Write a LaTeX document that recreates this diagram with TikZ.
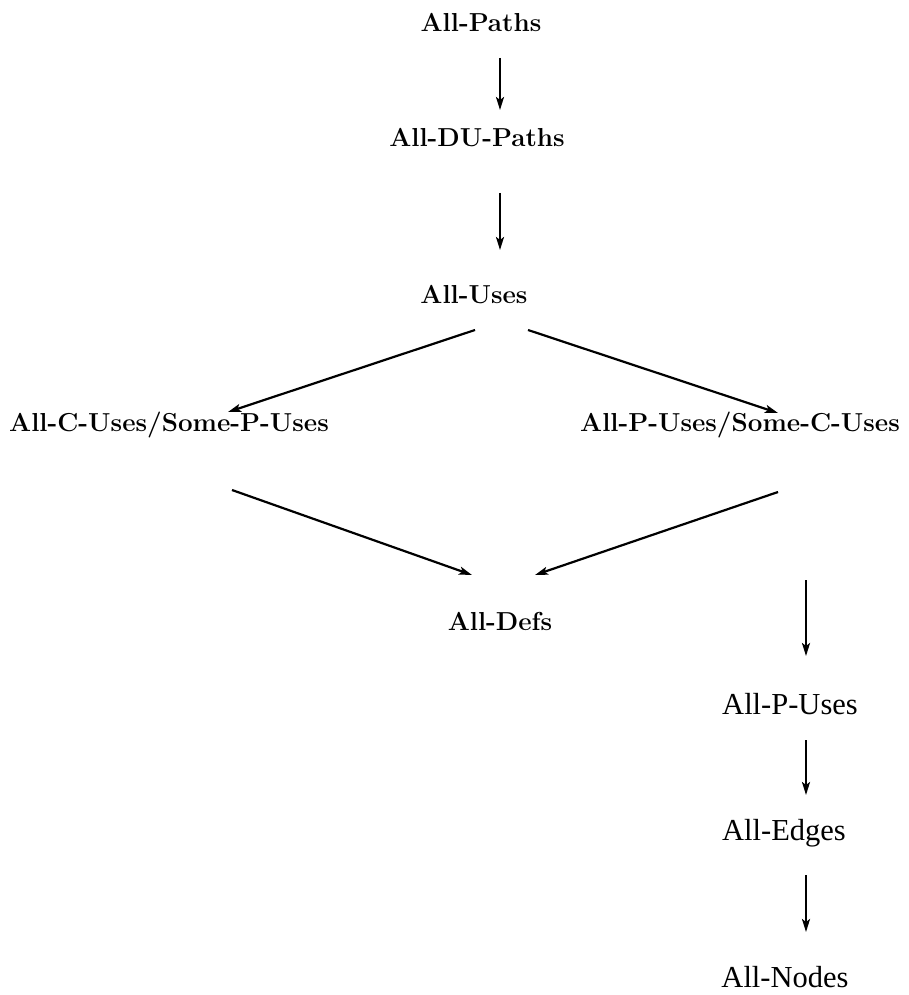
\documentclass[tikz,border=0pt]{standalone}
\usepackage{fontspec}
\newfontfamily\tmsfont{Liberation Serif}
\usetikzlibrary{arrows.meta}
\begin{document}
\begin{tikzpicture}[x=1pt,y=-1pt,
  lbl/.style={anchor=base,inner sep=0pt,font=\fontsize{26}{31}\selectfont\bfseries},
  lbltm/.style={anchor=base,inner sep=0pt,font=\fontsize{30.5}{36}\selectfont\tmsfont},
  arr/.style={line width=2.2pt,-{Stealth[length=13pt,width=8pt,inset=3pt]}}]
\useasboundingbox (0,0) rectangle (908,995);
\node[lbl] (paths) at (481,32) {All-Paths};
\node[lbl] (du) at (477,147) {All-DU-Paths};
\node[lbl] (uses) at (474,303) {All-Uses};
\node[lbl] (cu) at (169,431) {All-C-Uses/Some-P-Uses};
\node[lbl] (pu) at (740,431) {All-P-Uses/Some-C-Uses};
\node[lbl] (defs) at (500,630) {All-Defs};
\node[lbltm] (puses) at (790,714) {All-P-Uses};
\node[lbltm] (edges) at (784,840) {All-Edges};
\node[lbltm] (nodes) at (785,987) {All-Nodes};
\draw[arr] ([shift={(19,26)}]paths.base) -- ([shift={(23,-37)}]du.base);
\draw[arr] ([shift={(23,46)}]du.base) -- ([shift={(26,-53)}]uses.base);
\draw[arr] ([shift={(1,27)}]uses.base) -- ([shift={(59,-19)}]cu.base);
\draw[arr] ([shift={(54,27)}]uses.base) -- ([shift={(38,-18)}]pu.base);
\draw[arr] ([shift={(63,59)}]cu.base) -- ([shift={(-28,-55)}]defs.base);
\draw[arr] ([shift={(38,61)}]pu.base) -- ([shift={(35,-55)}]defs.base);
\draw[arr] ([shift={(66,149)}]pu.base) -- ([shift={(16,-58)}]puses.base);
\draw[arr] ([shift={(16,26)}]puses.base) -- ([shift={(22,-45)}]edges.base);
\draw[arr] ([shift={(22,35)}]edges.base) -- ([shift={(21,-55)}]nodes.base);
\end{tikzpicture}
\end{document}
